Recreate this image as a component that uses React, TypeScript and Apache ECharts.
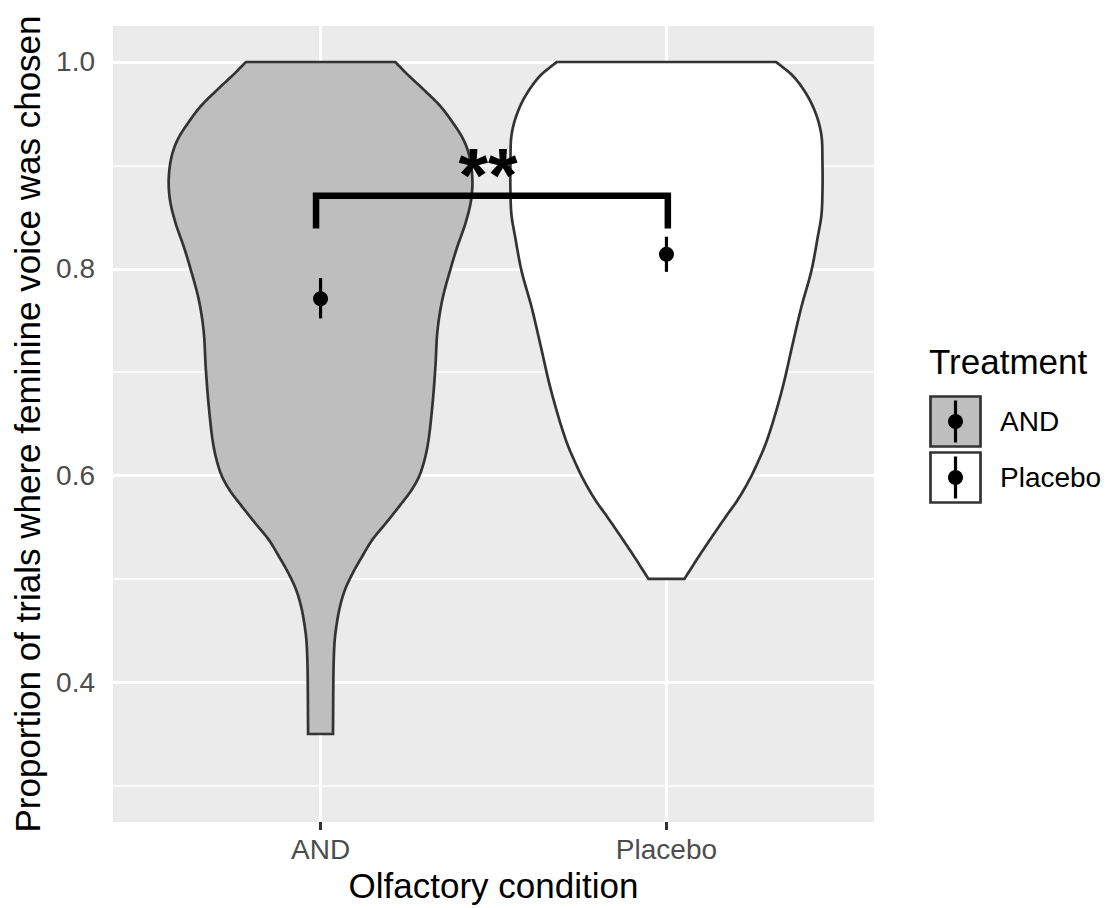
import React, { useEffect, useRef } from "react";
import * as echarts from "echarts";

// ---------- data ----------
const categories = ["AND", "Placebo"];
const treatmentFills = ["#BEBEBE", "#FFFFFF"];
const yMajorTicks = [0.4, 0.6, 0.8, 1.0];
const yMinorTicks = [0.3, 0.5, 0.7, 0.9];

// violin outlines: proportion levels and half-widths (in category units)
const andLevels = [1.0, 0.989, 0.973, 0.957, 0.941, 0.925, 0.908, 0.886, 0.866, 0.844, 0.821, 0.8, 0.77, 0.74, 0.705, 0.67, 0.634, 0.617, 0.6, 0.586, 0.57, 0.554, 0.538, 0.521, 0.505, 0.489, 0.473, 0.457, 0.441, 0.42, 0.4, 0.35];
const andHalfWidths = [0.216, 0.248, 0.299, 0.347, 0.383, 0.413, 0.431, 0.439, 0.435, 0.419, 0.395, 0.376, 0.352, 0.338, 0.332, 0.324, 0.312, 0.302, 0.286, 0.263, 0.227, 0.189, 0.15, 0.119, 0.092, 0.07, 0.056, 0.047, 0.041, 0.038, 0.037, 0.036];

const placeboLevels = [1.0, 0.986, 0.967, 0.948, 0.929, 0.903, 0.874, 0.852, 0.83, 0.798, 0.763, 0.726, 0.688, 0.652, 0.63, 0.615, 0.598, 0.577, 0.56, 0.54, 0.522, 0.5];
const placeboHalfWidths = [0.317, 0.367, 0.408, 0.434, 0.448, 0.451, 0.451, 0.448, 0.437, 0.419, 0.39, 0.364, 0.338, 0.308, 0.286, 0.267, 0.243, 0.207, 0.171, 0.13, 0.094, 0.052];

// mean +/- SE
const means = [0.771, 0.814];
const lowers = [0.752, 0.797];
const uppers = [0.791, 0.831];

// significance bracket
const bracketX = [-0.013, 1.004];
const bracketY = [0.839, 0.8705];
const sigLabel = "**";
const sigLabelPos = [0.484, 0.8914];

const xTitle = "Olfactory condition";
const yTitle = "Proportion of trials where feminine voice was chosen";
const legendTitle = "Treatment";

const FONT = '"Liberation Sans", Arial, Helvetica, sans-serif';

// centripetal Catmull-Rom through the outline points (drawing only)
function smoothCurve(pts: number[][], steps: number): number[][] {
  const n = pts.length;
  if (n < 3) return pts.slice();
  const ext = [
    [2 * pts[0][0] - pts[1][0], 2 * pts[0][1] - pts[1][1]],
    ...pts,
    [2 * pts[n - 1][0] - pts[n - 2][0], 2 * pts[n - 1][1] - pts[n - 2][1]],
  ];
  const dist = (a: number[], b: number[]) => Math.max(Math.sqrt(Math.hypot(b[0] - a[0], b[1] - a[1])), 1e-4);
  const lerp = (a: number[], b: number[], ta: number, tb: number, t: number) => {
    const w = (t - ta) / (tb - ta);
    return [a[0] + (b[0] - a[0]) * w, a[1] + (b[1] - a[1]) * w];
  };
  const out: number[][] = [];
  for (let i = 1; i < ext.length - 2; i++) {
    const p0 = ext[i - 1];
    const p1 = ext[i];
    const p2 = ext[i + 1];
    const p3 = ext[i + 2];
    const t0 = 0;
    const t1 = t0 + dist(p0, p1);
    const t2 = t1 + dist(p1, p2);
    const t3 = t2 + dist(p2, p3);
    for (let s = 0; s < steps; s++) {
      const t = t1 + ((t2 - t1) * s) / steps;
      const a1 = lerp(p0, p1, t0, t1, t);
      const a2 = lerp(p1, p2, t1, t2, t);
      const a3 = lerp(p2, p3, t2, t3, t);
      const b1 = lerp(a1, a2, t0, t2, t);
      const b2 = lerp(a2, a3, t1, t3, t);
      out.push(lerp(b1, b2, t1, t2, t));
    }
  }
  out.push(pts[n - 1]);
  return out;
}

function textStyle(text: string, size: number, color: string, align: string, vAlign: string, weight = "normal") {
  return {
    text,
    fontSize: size,
    fontFamily: FONT,
    fontWeight: weight,
    fill: color,
    textFill: color,
    align,
    textAlign: align,
    verticalAlign: vAlign,
    textVerticalAlign: vAlign,
  };
}

export default function App() {
  const ref = useRef<HTMLDivElement>(null);

  useEffect(() => {
    if (!ref.current) return;
    const chart = echarts.init(ref.current, null, { renderer: "svg" });
    const profiles = [
      { levels: andLevels, hw: andHalfWidths },
      { levels: placeboLevels, hw: placeboHalfWidths },
    ];
    const yMin = 0.2649;
    const yMax = 1.0348;

    const legendKeys: any[] = [];
    categories.forEach((c, i) => {
      const top = 396.5 + i * 56;
      legendKeys.push({
        type: "rect",
        shape: { x: 930.5, y: top, width: 50, height: 50 },
        style: { fill: treatmentFills[i], stroke: "#333333", lineWidth: 2.7 },
      });
      legendKeys.push({
        type: "line",
        shape: { x1: 955.5, y1: top + 4, x2: 955.5, y2: top + 46 },
        style: { stroke: "#000000", lineWidth: 3.2 },
      });
      legendKeys.push({
        type: "circle",
        shape: { cx: 955.5, cy: top + 25, r: 7.5 },
        style: { fill: "#000000" },
      });
      legendKeys.push({
        type: "text",
        x: 1000,
        y: top + 25,
        style: textStyle(c, 28, "#000000", "left", "middle"),
      });
    });

    const option: any = {
      animation: false,
      textStyle: { fontFamily: FONT },
      grid: {
        left: 113,
        right: 237,
        top: 26,
        bottom: 86,
        show: true,
        backgroundColor: "#EBEBEB",
        borderWidth: 0,
        containLabel: false,
        outerBoundsMode: "none",
      },
      xAxis: {
        type: "value",
        min: -0.6,
        max: 1.6,
        name: xTitle,
        nameLocation: "middle",
        nameGap: 45,
        nameTextStyle: { fontSize: 35, color: "#000000", fontFamily: FONT },
        axisLine: { show: false },
        axisTick: { show: true, customValues: [0, 1], length: 8, lineStyle: { color: "#333333", width: 3 } },
        axisLabel: {
          customValues: [0, 1],
          formatter: (v: number) => categories[Math.round(v)],
          fontSize: 28,
          color: "#4D4D4D",
          margin: 13,
          fontFamily: FONT,
        },
        splitLine: { show: true, lineStyle: { color: "#FFFFFF", width: 3 } },
      },
      yAxis: [
        {
          type: "value",
          min: yMin,
          max: yMax,
          name: yTitle,
          nameLocation: "middle",
          nameGap: 65.5,
          nameTextStyle: { fontSize: 35, color: "#000000", fontFamily: FONT },
          axisLine: { show: false },
          axisTick: { show: true, customValues: yMajorTicks, length: 8, lineStyle: { color: "#333333", width: 3 } },
          axisLabel: {
            customValues: yMajorTicks,
            formatter: (v: number) => v.toFixed(1),
            fontSize: 28,
            color: "#4D4D4D",
            margin: 18,
            fontFamily: FONT,
          },
          splitLine: { show: true, lineStyle: { color: "#FFFFFF", width: 3 } },
        },
        {
          type: "value",
          min: yMin,
          max: yMax,
          position: "left",
          axisLine: { show: false },
          axisTick: { show: false, customValues: yMinorTicks },
          axisLabel: { show: false, customValues: yMinorTicks },
          splitLine: { show: true, lineStyle: { color: "#FFFFFF", width: 1.5 } },
        },
      ],
      series: [
        {
          type: "custom",
          name: "violin",
          z: 2,
          data: profiles.map((p, i) => [i, p.levels[0]]),
          encode: { x: 0, y: 1 },
          renderItem: (params: any, api: any) => {
            const i = params.dataIndex;
            const c = api.value(0);
            const p = profiles[i];
            const right = p.levels.map((v, k) => api.coord([c + p.hw[k], v]));
            const left = p.levels.map((v, k) => api.coord([c - p.hw[k], v]));
            const pts = smoothCurve(right, 10).concat(smoothCurve(left, 10).reverse());
            return {
              type: "polygon",
              shape: { points: pts },
              style: { fill: treatmentFills[i], stroke: "#333333", lineWidth: 2.7, lineJoin: "miter" },
            };
          },
        },
        {
          type: "custom",
          name: "errorbar",
          z: 3,
          data: means.map((m, i) => [i, lowers[i], uppers[i]]),
          encode: { x: 0, y: [1, 2] },
          renderItem: (params: any, api: any) => {
            const a = api.coord([api.value(0), api.value(1)]);
            const b = api.coord([api.value(0), api.value(2)]);
            return {
              type: "line",
              shape: { x1: a[0], y1: a[1], x2: b[0], y2: b[1] },
              style: { stroke: "#000000", lineWidth: 3.2 },
            };
          },
        },
        {
          type: "scatter",
          name: "mean",
          z: 4,
          symbol: "circle",
          symbolSize: 15,
          itemStyle: { color: "#000000", opacity: 1 },
          data: means.map((m, i) => [i, m]),
        },
        {
          type: "custom",
          name: "bracket",
          z: 5,
          data: [[bracketX[0], bracketX[1], bracketY[0], bracketY[1]]],
          encode: { x: [0, 1], y: [2, 3] },
          renderItem: (params: any, api: any) => {
            const x0 = api.value(0);
            const x1 = api.value(1);
            const y0 = api.value(2);
            const y1 = api.value(3);
            const pts = [
              api.coord([x0, y0]),
              api.coord([x0, y1]),
              api.coord([x1, y1]),
              api.coord([x1, y0]),
            ];
            const tp = api.coord(sigLabelPos);
            return {
              type: "group",
              children: [
                {
                  type: "polyline",
                  shape: { points: pts },
                  style: { stroke: "#000000", lineWidth: 6.5, fill: null, lineJoin: "miter", lineCap: "butt" },
                },
                {
                  type: "text",
                  x: tp[0],
                  y: tp[1],
                  style: textStyle(sigLabel, 76, "#000000", "center", "middle", "bold"),
                },
              ],
            };
          },
        },
      ],
      graphic: [
        {
          type: "text",
          x: 929,
          y: 361,
          style: textStyle(legendTitle, 35, "#000000", "left", "middle"),
        },
        ...legendKeys,
      ],
    };

    chart.setOption(option);
    return () => chart.dispose();
  }, []);

  return (
    <div
      ref={ref}
      style={{ position: "fixed", left: 0, top: 0, width: 1111, height: 908, background: "#FFFFFF" }}
    />
  );
}
